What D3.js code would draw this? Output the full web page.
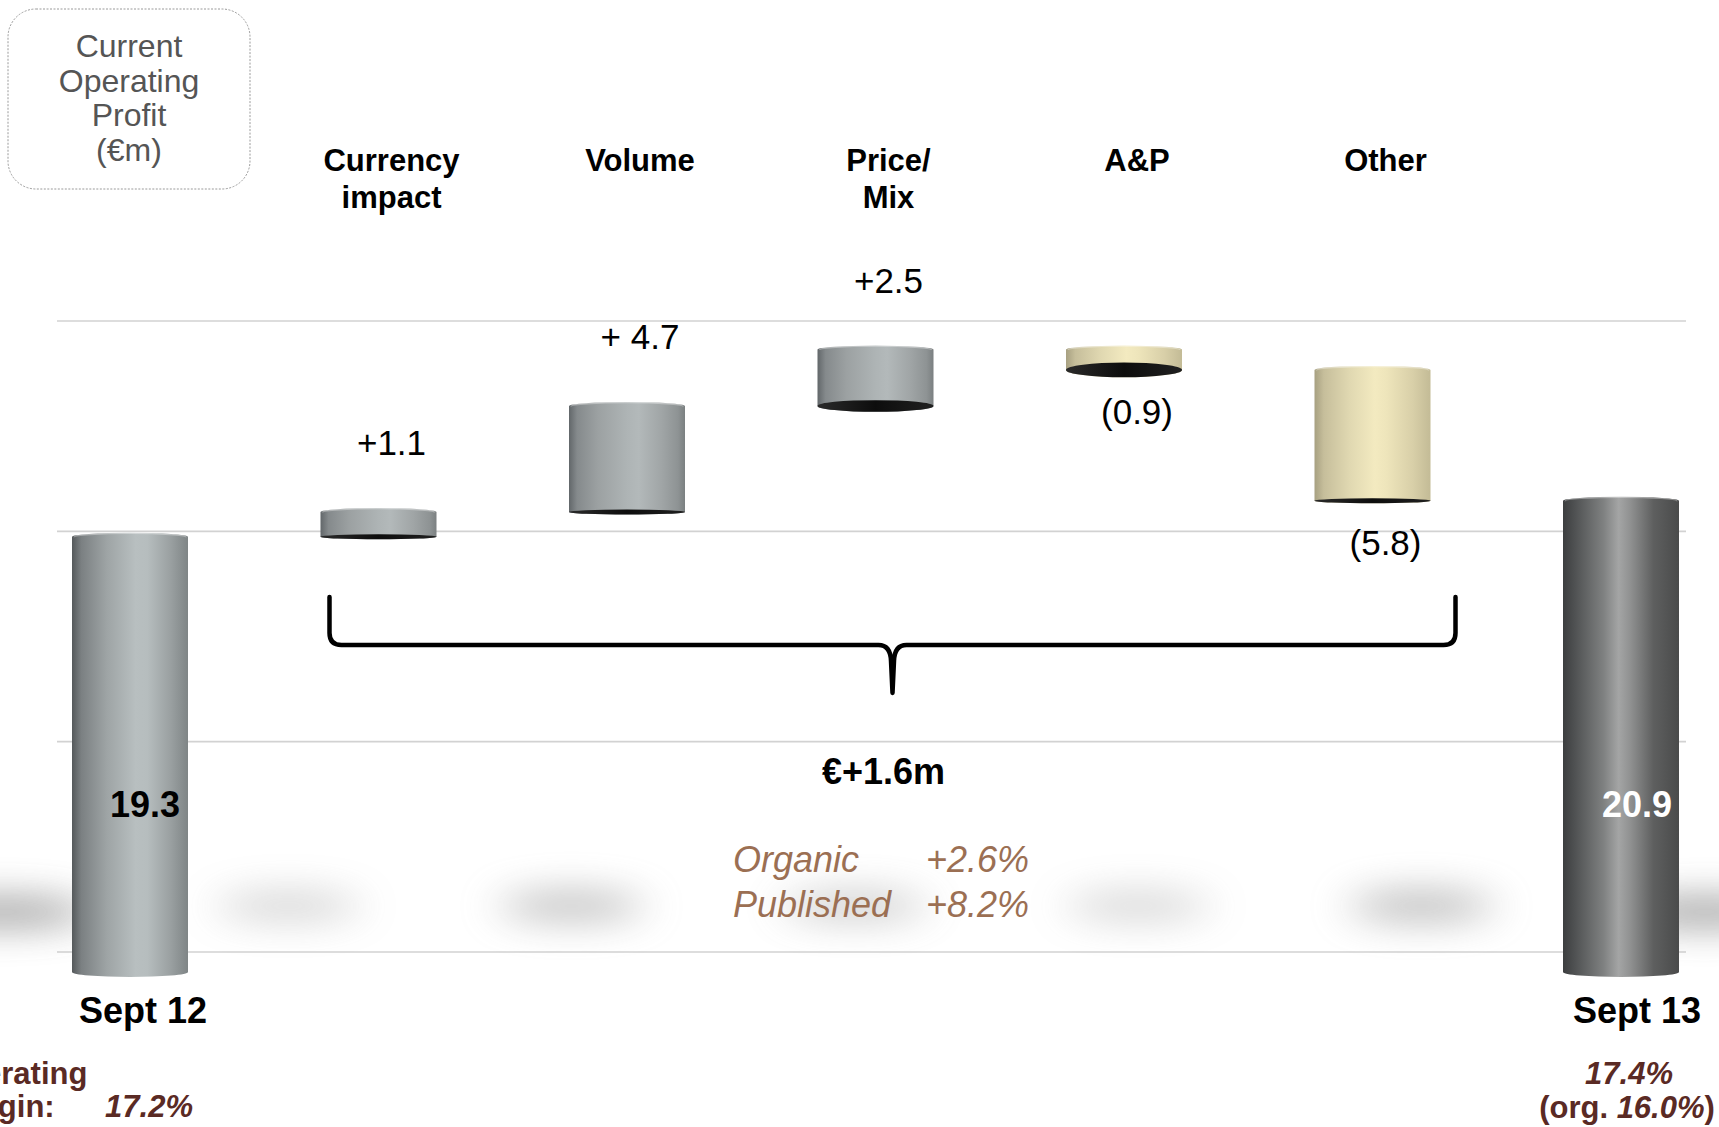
<!DOCTYPE html>
<html><head><meta charset="utf-8">
<script src="https://cdn.jsdelivr.net/npm/d3@7"></script>
<style>
html,body{margin:0;padding:0;background:#fff;overflow:hidden}
svg{display:block}
text{font-family:"Liberation Sans", Arial, Helvetica, sans-serif}
</style></head><body>
<svg id="chart" width="1719" height="1127"></svg>
<script>
// ---------------- data ----------------
const categories = ["Sept 12","Currency impact","Volume","Price/Mix","A&P","Other","Sept 13"];
const stepCategories = ["Currency impact","Volume","Price/Mix","A&P","Other"];
const categoryLines = [["Currency","impact"],["Volume"],["Price/","Mix"],["A&P"],["Other"]];
const startValue = 19.3;
const stepValues = [1.1, 4.7, 2.5, -0.9, -5.8];
const endValue = 20.9;
const stepLabels = ["+1.1","+ 4.7","+2.5","(0.9)","(5.8)"];
const totalLabels = ["19.3","20.9"];
const periodLabels = ["Sept 12","Sept 13"];
const gridTicks = [0, 10, 20, 30];
const boxTitle = ["Current","Operating","Profit","(€m)"];
const totalChange = "€+1.6m";
const growthNames = ["Organic","Published"];
const growthValues = ["+2.6%","+8.2%"];
const marginTitle = ["Operating","margin:"];
const marginStart = "17.2%";
const marginEnd = "17.4%";
const marginEndOrganic = "16.0%";

// ---------------- layout ----------------
const svg = d3.select("#chart");
const bw = 116;                 // cylinder width
const x = d3.scalePoint().domain(categories).range([130, 1621]);
const y = d3.scaleLinear().domain([0, 30]).range([972, 972 - 30 * 22.55]);
const wall = d3.scaleLinear().domain([0, 30]).range([952, 321]);
const labelShift = 13;

// waterfall records
const bars = [];
bars.push({cat: categories[0], v0: 0, v1: startValue, kind: "start"});
let run = startValue;
stepValues.forEach((d, i) => {
  bars.push({cat: stepCategories[i], v0: run, v1: run + d, kind: d >= 0 ? "up" : "down", label: stepLabels[i], lines: categoryLines[i]});
  run += d;
});
bars.push({cat: categories[categories.length - 1], v0: 0, v1: endValue, kind: "end"});

// ---------------- defs ----------------
const defs = svg.append("defs");
function hGrad(id, stops) {
  const g = defs.append("linearGradient").attr("id", id).attr("x1", "0%").attr("x2", "100%").attr("y1", "0%").attr("y2", "0%");
  stops.forEach(s => g.append("stop").attr("offset", s[0]).attr("stop-color", s[1]));
}
hGrad("gGray", [["0%","#62676a"],["7%","#858a8c"],["25%","#9ca1a2"],["50%","#aeb4b5"],["60%","#b3b9ba"],["80%","#a0a5a6"],["94%","#8e9394"],["100%","#7b8081"]]);
hGrad("gStart", [["0%","#55595b"],["8%","#7b8082"],["30%","#9ea4a5"],["55%","#b8bfc0"],["65%","#b6bdbe"],["85%","#9aa0a1"],["100%","#7f8586"]]);
hGrad("gDark", [["0%","#3c3e3f"],["10%","#4f5152"],["35%","#7f8181"],["48%","#a4a5a5"],["58%","#909191"],["78%","#5e5f5f"],["100%","#4a4b4b"]]);
hGrad("gBeige", [["0%","#a7a081"],["8%","#c6be9b"],["30%","#e0d8b1"],["52%","#f3eac0"],["62%","#eee5bb"],["85%","#d8cfa8"],["100%","#c3bb96"]]);
hGrad("gUnder", [["0%","#2a2a2a"],["50%","#0d0d0d"],["100%","#202020"]]);
const blur = defs.append("filter").attr("id", "blur").attr("filterUnits", "userSpaceOnUse")
  .attr("x", -300).attr("y", 700).attr("width", 2400).attr("height", 400);
blur.append("feGaussianBlur").attr("stdDeviation", "22 18");

// ---------------- gridlines (back wall) ----------------
svg.append("g").selectAll("line").data(gridTicks).join("line")
  .attr("x1", x(categories[0]) - 73).attr("x2", x(categories[categories.length - 1]) + 65)
  .attr("y1", d => wall(d)).attr("y2", d => wall(d))
  .attr("stroke", "#d2d2d2").attr("stroke-width", 1.6);

// ---------------- floor shadows ----------------
const isTotal = d => d.kind === "start" || d.kind === "end";
svg.append("g").selectAll("ellipse").data(bars).join("ellipse")
  .attr("filter", "url(#blur)")
  .attr("cx", d => { const c = x(d.cat); return c - 125 + 0.14 * (c - x(categories[0])); })
  .attr("cy", d => isTotal(d) ? 912 : 906)
  .attr("rx", d => isTotal(d) ? 85 : 72)
  .attr("ry", 15)
  .attr("fill", "#8a8a8a")
  .attr("opacity", d => isTotal(d) ? 0.8 : Math.min(0.62, 0.3 + 0.05 * Math.abs(d.v1 - d.v0)));

// ---------------- cylinders ----------------
const fillFor = d => d.kind === "start" ? "url(#gStart)" : d.kind === "end" ? "url(#gDark)" : d.kind === "up" ? "url(#gGray)" : "url(#gBeige)";
const gBars = svg.append("g");
bars.forEach(d => {
  const cx = x(d.cat);
  const top = y(Math.max(d.v0, d.v1));
  const bot = y(Math.min(d.v0, d.v1));
  const floor = isTotal(d);
  const ryT = 4;
  const ryB = floor ? 5 : Math.max(2.5, Math.min(7.5, (545 - bot) * 0.042));
  const l = cx - bw / 2, r = cx + bw / 2, rx = bw / 2;
  gBars.append("path")
    .attr("d", `M${l},${top} A${rx},${ryT} 0 0 1 ${r},${top} L${r},${bot} A${rx},${ryB} 0 0 1 ${l},${bot} Z`)
    .attr("fill", fillFor(d));
  gBars.append("path")
    .attr("d", `M${l + 2},${top + 0.5} A${rx - 2},${ryT} 0 0 1 ${r - 2},${top + 0.5}`)
    .attr("fill", "none").attr("stroke", "#ffffff").attr("stroke-opacity", 0.35).attr("stroke-width", 1.5);
  if (!floor) {
    gBars.append("ellipse").attr("cx", cx).attr("cy", bot).attr("rx", rx).attr("ry", ryB).attr("fill", "url(#gUnder)");
  }
});

// ---------------- box title ----------------
const box = svg.append("g");
box.append("rect").attr("x", 8).attr("y", 9).attr("width", 242).attr("height", 180).attr("rx", 28)
  .attr("fill", "#fff").attr("stroke", "#9a9a9a").attr("stroke-width", 1).attr("stroke-dasharray", "2,1.5");
box.selectAll("text").data(boxTitle).join("text")
  .attr("x", 129).attr("y", (d, i) => 57 + i * 34.7).attr("text-anchor", "middle")
  .attr("font-size", 32).attr("fill", "#555555").text(d => d);

// ---------------- category labels ----------------
const steps = bars.filter(d => d.kind === "up" || d.kind === "down");
const gCat = svg.append("g");
steps.forEach(d => {
  d.lines.forEach((t, j) => {
    gCat.append("text").attr("x", x(d.cat) + labelShift).attr("y", 171 + j * 37)
      .attr("text-anchor", "middle").attr("font-size", 31).attr("font-weight", "bold").attr("fill", "#000").text(t);
  });
});

// ---------------- value labels ----------------
svg.append("g").selectAll("text").data(steps).join("text")
  .attr("x", d => x(d.cat) + labelShift)
  .attr("y", d => d.kind === "up" ? y(d.v1) - 57 : y(d.v1) + 54)
  .attr("text-anchor", "middle").attr("font-size", 35).attr("fill", "#000")
  .text(d => d.label);

// totals inside bars
const totals = [bars[0], bars[bars.length - 1]];
svg.append("g").selectAll("text").data(totals).join("text")
  .attr("x", (d, i) => x(d.cat) + (i === 0 ? 15 : 16))
  .attr("y", y(0) - 155)
  .attr("text-anchor", "middle").attr("font-size", 36).attr("font-weight", "bold")
  .attr("fill", (d, i) => i === 0 ? "#000" : "#fff")
  .text((d, i) => totalLabels[i]);

// period labels
svg.append("g").selectAll("text").data(totals).join("text")
  .attr("x", (d, i) => x(d.cat) + (i === 0 ? 13 : 16))
  .attr("y", 1023)
  .attr("text-anchor", "middle").attr("font-size", 36).attr("font-weight", "bold").attr("fill", "#000")
  .text((d, i) => periodLabels[i]);

// ---------------- brace ----------------
const bL = x(stepCategories[0]) - bw / 2 + 9;
const bR = x(stepCategories[stepCategories.length - 1]) + bw / 2 + 25;
const bM = (bL + bR) / 2;
const bTop = 597, bH = 645, bTip = 693;
svg.append("path")
  .attr("d", `M${bL},${bTop} L${bL},${bH - 12} Q${bL},${bH} ${bL + 12},${bH} L${bM - 14},${bH} Q${bM - 2},${bH} ${bM - 1.5},${bH + 16} L${bM},${bTip} L${bM + 1.5},${bH + 16} Q${bM + 2},${bH} ${bM + 14},${bH} L${bR - 12},${bH} Q${bR},${bH} ${bR},${bH - 12} L${bR},${bTop}`)
  .attr("fill", "none").attr("stroke", "#000").attr("stroke-width", 4.5).attr("stroke-linejoin", "round").attr("stroke-linecap", "round");

svg.append("text").attr("x", bM - 9).attr("y", 784).attr("text-anchor", "middle")
  .attr("font-size", 36).attr("font-weight", "bold").attr("fill", "#000").text(totalChange);

// growth rates
const gGrowth = svg.append("g").attr("font-size", 36).attr("font-style", "italic").attr("fill", "#9b6f53");
growthNames.forEach((n, i) => {
  gGrowth.append("text").attr("x", 733).attr("y", 872 + i * 45).text(n);
  gGrowth.append("text").attr("x", 926).attr("y", 872 + i * 45).text(growthValues[i]);
});

// ---------------- margins ----------------
const brown = "#5a2a24";
const gM = svg.append("g").attr("font-weight", "bold").attr("font-size", 31).attr("fill", brown);
marginTitle.forEach((t, i) => gM.append("text").attr("x", -59).attr("y", 1084 + i * 33).text(t));
gM.append("text").attr("x", x(categories[0]) + 19).attr("y", 1117).attr("text-anchor", "middle").attr("font-style", "italic").text(marginStart);
gM.append("text").attr("x", x(categories[categories.length - 1]) + 8).attr("y", 1084).attr("text-anchor", "middle").attr("font-style", "italic").text(marginEnd);
const org = gM.append("text").attr("x", x(categories[categories.length - 1]) + 6).attr("y", 1118).attr("text-anchor", "middle");
org.append("tspan").text("(org. ");
org.append("tspan").attr("font-style", "italic").text(marginEndOrganic);
org.append("tspan").text(")");
</script>
</body></html>
